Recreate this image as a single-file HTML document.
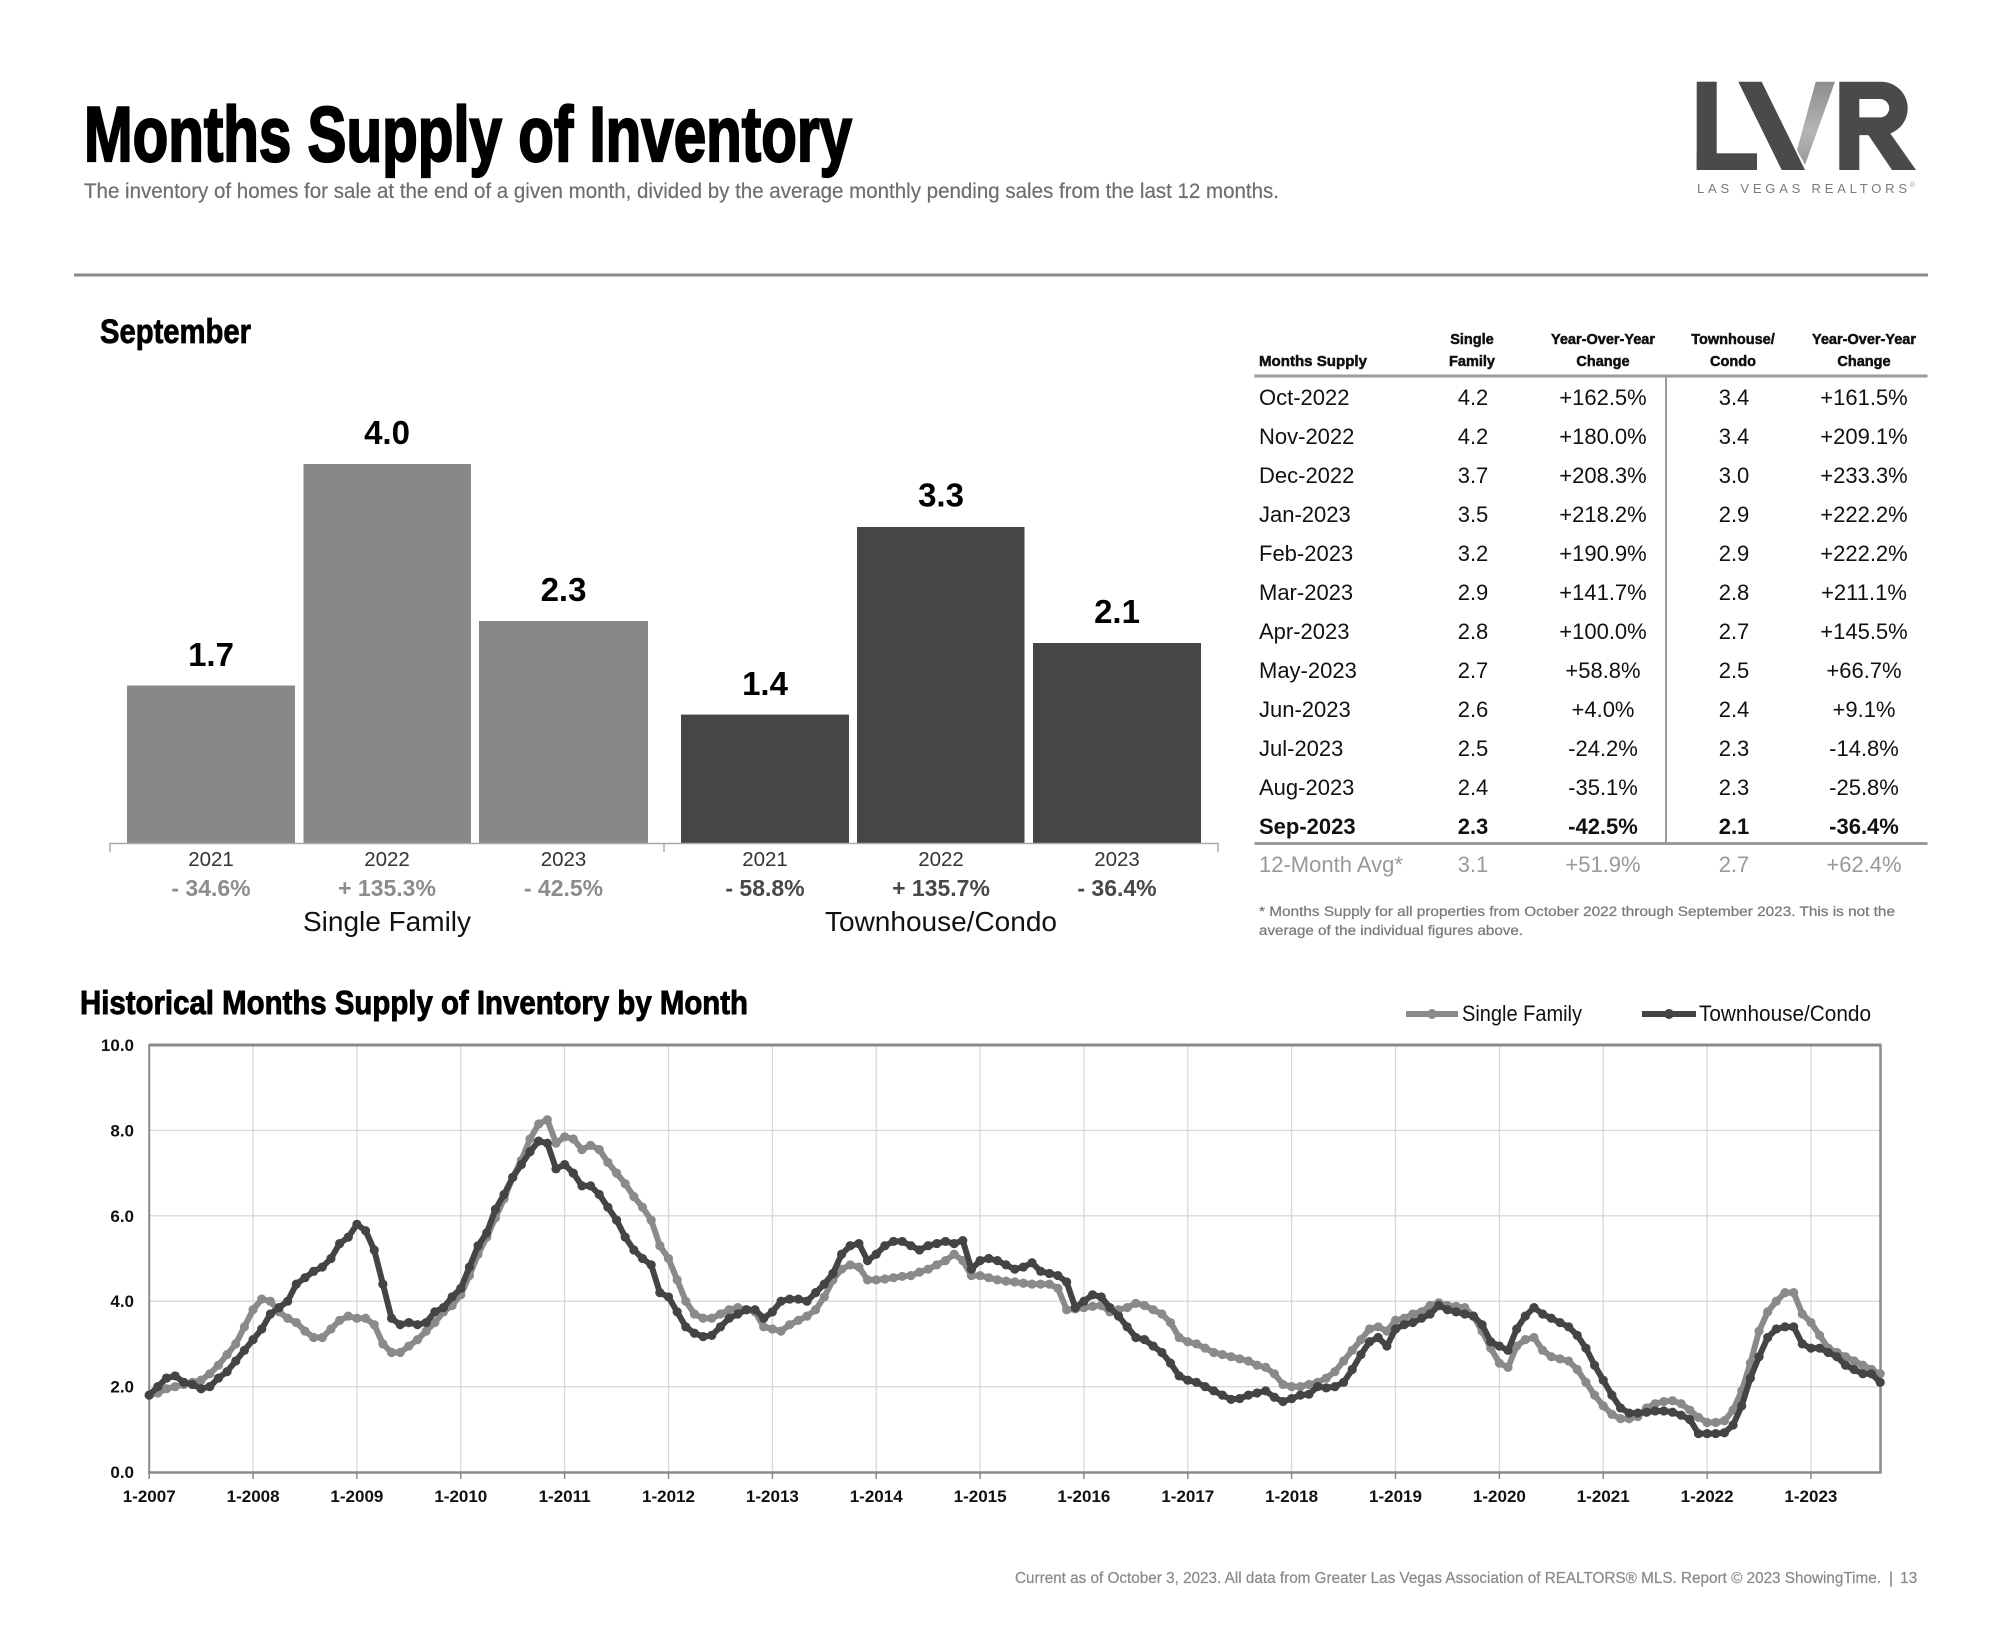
<!DOCTYPE html>
<html><head><meta charset="utf-8"><style>
html,body{margin:0;padding:0;background:#fff;}
svg{display:block;font-family:"Liberation Sans",Arial,sans-serif;}
</style></head><body>
<svg width="2000" height="1640" viewBox="0 0 2000 1640" xmlns="http://www.w3.org/2000/svg">
<rect width="2000" height="1640" fill="#fff"/>
<!-- Header -->
<text x="84" y="161" font-size="78" font-weight="bold" fill="#000" stroke="#000" stroke-width="2.2" textLength="768" lengthAdjust="spacingAndGlyphs">Months Supply of Inventory</text>
<text x="84" y="198" font-size="21" fill="#6e6e6e" stroke="#6e6e6e" stroke-width="0.2" textLength="1195" lengthAdjust="spacingAndGlyphs">The inventory of homes for sale at the end of a given month, divided by the average monthly pending sales from the last 12 months.</text>
<!-- Logo -->
<g fill="#4a4a4a">
<rect x="1696.7" y="81.7" width="20" height="88.3"/>
<rect x="1696.7" y="153.3" width="60.3" height="16.7"/>
<polygon points="1738.3,81.7 1761.7,81.7 1805,170 1781.7,170"/>
<path fill-rule="evenodd" d="M1839.3,81.7 H1881 A26.7,26.7 0 0 1 1881,135.1 H1859.3 V170 H1839.3 Z M1859.3,99 H1880 A9.2,9.2 0 0 1 1880,117.4 H1859.3 Z"/>
<polygon points="1867,133 1890,133 1916,170 1892,170"/>
</g>
<defs><linearGradient id="vg" x1="0" y1="0" x2="0" y2="1"><stop offset="0" stop-color="#8d8d8d"/><stop offset="0.6" stop-color="#b5b5b5"/><stop offset="1" stop-color="#9a9a9a"/></linearGradient></defs>
<polygon points="1815.7,81.7 1835,81.7 1805,165 1797,150" fill="url(#vg)"/>
<text x="1697" y="193" font-size="13" fill="#7a7a7a" textLength="210" lengthAdjust="spacing">LAS VEGAS REALTORS</text>
<text x="1910" y="187" font-size="7" fill="#999">®</text>
<rect x="74" y="273.5" width="1854" height="3" fill="#8a8a8a"/>

<!-- September bar chart -->
<text x="100" y="343" font-size="34" font-weight="bold" fill="#000" stroke="#000" stroke-width="0.8" textLength="151" lengthAdjust="spacingAndGlyphs">September</text>
<g fill="#888">
<rect x="127" y="685.5" width="168" height="157.5"/>
<rect x="303.5" y="464" width="167.5" height="379"/>
<rect x="479" y="621" width="169" height="222"/>
</g>
<g fill="#464646">
<rect x="681" y="714.6" width="168" height="128.4"/>
<rect x="857" y="527" width="167.5" height="316"/>
<rect x="1033" y="643" width="168" height="200"/>
</g>
<g stroke="#aaa" stroke-width="1.5" fill="none">
<line x1="110" y1="843.5" x2="1218" y2="843.5"/>
<line x1="110" y1="843" x2="110" y2="852"/>
<line x1="664" y1="843" x2="664" y2="852"/>
<line x1="1218" y1="843" x2="1218" y2="852"/>
</g>
<g font-size="33" font-weight="bold" fill="#000" text-anchor="middle">
<text x="211" y="666">1.7</text>
<text x="387" y="444">4.0</text>
<text x="563.5" y="601">2.3</text>
<text x="765" y="695">1.4</text>
<text x="941" y="506.5">3.3</text>
<text x="1117" y="623">2.1</text>
</g>
<g font-size="20.5" fill="#333" text-anchor="middle">
<text x="211" y="866">2021</text>
<text x="387" y="866">2022</text>
<text x="563.5" y="866">2023</text>
<text x="765" y="866">2021</text>
<text x="941" y="866">2022</text>
<text x="1117" y="866">2023</text>
</g>
<g font-size="23" font-weight="bold" text-anchor="middle">
<text x="211" y="896" fill="#8c8c8c">- 34.6%</text>
<text x="387" y="896" fill="#8c8c8c">+ 135.3%</text>
<text x="563.5" y="896" fill="#8c8c8c">- 42.5%</text>
<text x="765" y="896" fill="#484848">- 58.8%</text>
<text x="941" y="896" fill="#484848">+ 135.7%</text>
<text x="1117" y="896" fill="#484848">- 36.4%</text>
</g>
<g font-size="28" fill="#111" text-anchor="middle">
<text x="387" y="931">Single Family</text>
<text x="941" y="931">Townhouse/Condo</text>
</g>

<!-- Table -->
<g font-size="14.5" font-weight="bold" fill="#111" stroke="#111" stroke-width="0.5">
<text x="1259" y="366" textLength="108" lengthAdjust="spacingAndGlyphs">Months Supply</text>
<g text-anchor="middle">
<text x="1472" y="344">Single</text><text x="1472" y="366">Family</text>
<text x="1603" y="344">Year-Over-Year</text><text x="1603" y="366">Change</text>
<text x="1733" y="344">Townhouse/</text><text x="1733" y="366">Condo</text>
<text x="1864" y="344">Year-Over-Year</text><text x="1864" y="366">Change</text>
</g>
</g>
<rect x="1254.5" y="374.5" width="673" height="3" fill="#9a9a9a"/>
<rect x="1254.5" y="842" width="673" height="3" fill="#9a9a9a"/>
<rect x="1665" y="376" width="2" height="467" fill="#9a9a9a"/>
<g font-size="22" fill="#111">
<g>
<text x="1259" y="405">Oct-2022</text>
<text x="1259" y="444">Nov-2022</text>
<text x="1259" y="483">Dec-2022</text>
<text x="1259" y="522">Jan-2023</text>
<text x="1259" y="561">Feb-2023</text>
<text x="1259" y="600">Mar-2023</text>
<text x="1259" y="639">Apr-2023</text>
<text x="1259" y="678">May-2023</text>
<text x="1259" y="717">Jun-2023</text>
<text x="1259" y="756">Jul-2023</text>
<text x="1259" y="795">Aug-2023</text>
<text x="1259" y="834" font-weight="bold">Sep-2023</text>
</g>
<g text-anchor="middle">
<text x="1473" y="405">4.2</text><text x="1603" y="405">+162.5%</text><text x="1734" y="405">3.4</text><text x="1864" y="405">+161.5%</text>
<text x="1473" y="444">4.2</text><text x="1603" y="444">+180.0%</text><text x="1734" y="444">3.4</text><text x="1864" y="444">+209.1%</text>
<text x="1473" y="483">3.7</text><text x="1603" y="483">+208.3%</text><text x="1734" y="483">3.0</text><text x="1864" y="483">+233.3%</text>
<text x="1473" y="522">3.5</text><text x="1603" y="522">+218.2%</text><text x="1734" y="522">2.9</text><text x="1864" y="522">+222.2%</text>
<text x="1473" y="561">3.2</text><text x="1603" y="561">+190.9%</text><text x="1734" y="561">2.9</text><text x="1864" y="561">+222.2%</text>
<text x="1473" y="600">2.9</text><text x="1603" y="600">+141.7%</text><text x="1734" y="600">2.8</text><text x="1864" y="600">+211.1%</text>
<text x="1473" y="639">2.8</text><text x="1603" y="639">+100.0%</text><text x="1734" y="639">2.7</text><text x="1864" y="639">+145.5%</text>
<text x="1473" y="678">2.7</text><text x="1603" y="678">+58.8%</text><text x="1734" y="678">2.5</text><text x="1864" y="678">+66.7%</text>
<text x="1473" y="717">2.6</text><text x="1603" y="717">+4.0%</text><text x="1734" y="717">2.4</text><text x="1864" y="717">+9.1%</text>
<text x="1473" y="756">2.5</text><text x="1603" y="756">-24.2%</text><text x="1734" y="756">2.3</text><text x="1864" y="756">-14.8%</text>
<text x="1473" y="795">2.4</text><text x="1603" y="795">-35.1%</text><text x="1734" y="795">2.3</text><text x="1864" y="795">-25.8%</text>
<g font-weight="bold"><text x="1473" y="834">2.3</text><text x="1603" y="834">-42.5%</text><text x="1734" y="834">2.1</text><text x="1864" y="834">-36.4%</text></g>
</g>
<g fill="#999">
<text x="1259" y="872">12-Month Avg*</text>
<g text-anchor="middle"><text x="1473" y="872">3.1</text><text x="1603" y="872">+51.9%</text><text x="1734" y="872">2.7</text><text x="1864" y="872">+62.4%</text></g>
</g>
</g>
<g font-size="13.5" fill="#7a7a7a" stroke="#7a7a7a" stroke-width="0.25">
<text x="1259" y="916" textLength="636" lengthAdjust="spacingAndGlyphs">* Months Supply for all properties from October 2022 through September 2023. This is not the</text>
<text x="1259" y="935" textLength="264" lengthAdjust="spacingAndGlyphs">average of the individual figures above.</text>
</g>

<!-- Historical chart -->
<text x="80" y="1014" font-size="33" font-weight="bold" fill="#000" stroke="#000" stroke-width="0.9" textLength="668" lengthAdjust="spacingAndGlyphs">Historical Months Supply of Inventory by Month</text>
<g>
<line x1="1406" y1="1014" x2="1458" y2="1014" stroke="#8a8a8a" stroke-width="6"/>
<circle cx="1432" cy="1014" r="5" fill="#8a8a8a"/>
<text x="1462" y="1021" font-size="22" fill="#111" textLength="120" lengthAdjust="spacingAndGlyphs">Single Family</text>
<line x1="1642" y1="1014" x2="1696" y2="1014" stroke="#444" stroke-width="6"/>
<circle cx="1669" cy="1014" r="5" fill="#444"/>
<text x="1699" y="1021" font-size="22" fill="#111" textLength="172" lengthAdjust="spacingAndGlyphs">Townhouse/Condo</text>
</g>
<g stroke="#d8d8d8" stroke-width="1.3">
<line x1="149.2" y1="1386.6" x2="1880.2" y2="1386.6"/>
<line x1="149.2" y1="1301.2" x2="1880.2" y2="1301.2"/>
<line x1="149.2" y1="1215.8" x2="1880.2" y2="1215.8"/>
<line x1="149.2" y1="1130.4" x2="1880.2" y2="1130.4"/>
<line x1="253.1" y1="1045" x2="253.1" y2="1472"/>
<line x1="356.9" y1="1045" x2="356.9" y2="1472"/>
<line x1="460.8" y1="1045" x2="460.8" y2="1472"/>
<line x1="564.6" y1="1045" x2="564.6" y2="1472"/>
<line x1="668.5" y1="1045" x2="668.5" y2="1472"/>
<line x1="772.4" y1="1045" x2="772.4" y2="1472"/>
<line x1="876.2" y1="1045" x2="876.2" y2="1472"/>
<line x1="980.1" y1="1045" x2="980.1" y2="1472"/>
<line x1="1083.9" y1="1045" x2="1083.9" y2="1472"/>
<line x1="1187.8" y1="1045" x2="1187.8" y2="1472"/>
<line x1="1291.6" y1="1045" x2="1291.6" y2="1472"/>
<line x1="1395.5" y1="1045" x2="1395.5" y2="1472"/>
<line x1="1499.4" y1="1045" x2="1499.4" y2="1472"/>
<line x1="1603.2" y1="1045" x2="1603.2" y2="1472"/>
<line x1="1707.1" y1="1045" x2="1707.1" y2="1472"/>
<line x1="1810.9" y1="1045" x2="1810.9" y2="1472"/>
</g>
<g stroke="#8a8a8a" fill="none">
<line x1="149.2" y1="1045" x2="1881.5" y2="1045" stroke-width="3"/>
<line x1="1880.5" y1="1045" x2="1880.5" y2="1473" stroke-width="2.5"/>
<line x1="149.2" y1="1044" x2="149.2" y2="1473" stroke-width="2"/>
<line x1="148" y1="1472.5" x2="1881.5" y2="1472.5" stroke-width="2.5"/>
</g>
<g stroke="#8a8a8a" stroke-width="1.5">
<line x1="149.2" y1="1472" x2="149.2" y2="1479"/><line x1="253.1" y1="1472" x2="253.1" y2="1479"/><line x1="356.9" y1="1472" x2="356.9" y2="1479"/><line x1="460.8" y1="1472" x2="460.8" y2="1479"/><line x1="564.6" y1="1472" x2="564.6" y2="1479"/><line x1="668.5" y1="1472" x2="668.5" y2="1479"/><line x1="772.4" y1="1472" x2="772.4" y2="1479"/><line x1="876.2" y1="1472" x2="876.2" y2="1479"/><line x1="980.1" y1="1472" x2="980.1" y2="1479"/><line x1="1083.9" y1="1472" x2="1083.9" y2="1479"/><line x1="1187.8" y1="1472" x2="1187.8" y2="1479"/><line x1="1291.6" y1="1472" x2="1291.6" y2="1479"/><line x1="1395.5" y1="1472" x2="1395.5" y2="1479"/><line x1="1499.4" y1="1472" x2="1499.4" y2="1479"/><line x1="1603.2" y1="1472" x2="1603.2" y2="1479"/><line x1="1707.1" y1="1472" x2="1707.1" y2="1479"/><line x1="1810.9" y1="1472" x2="1810.9" y2="1479"/>
</g>
<g font-size="17" font-weight="bold" fill="#111" text-anchor="end">
<text x="134" y="1478">0.0</text>
<text x="134" y="1392.6">2.0</text>
<text x="134" y="1307.2">4.0</text>
<text x="134" y="1221.8">6.0</text>
<text x="134" y="1136.4">8.0</text>
<text x="134" y="1051">10.0</text>
</g>
<g font-size="17" font-weight="bold" fill="#111" text-anchor="middle">
<text x="149.2" y="1502">1-2007</text><text x="253.1" y="1502">1-2008</text><text x="356.9" y="1502">1-2009</text><text x="460.8" y="1502">1-2010</text><text x="564.6" y="1502">1-2011</text><text x="668.5" y="1502">1-2012</text><text x="772.4" y="1502">1-2013</text><text x="876.2" y="1502">1-2014</text><text x="980.1" y="1502">1-2015</text><text x="1083.9" y="1502">1-2016</text><text x="1187.8" y="1502">1-2017</text><text x="1291.6" y="1502">1-2018</text><text x="1395.5" y="1502">1-2019</text><text x="1499.4" y="1502">1-2020</text><text x="1603.2" y="1502">1-2021</text><text x="1707.1" y="1502">1-2022</text><text x="1810.9" y="1502">1-2023</text>
</g>
<polyline id="sf" fill="none" stroke="#8a8a8a" stroke-width="6" stroke-linejoin="round" stroke-linecap="round" vector-effect="non-scaling-stroke" transform="matrix(8.655 0 0 -42.7 149.2 1472)" points="0,1.8 1,1.85 2,1.95 3,2.0 4,2.05 5,2.1 6,2.15 7,2.3 8,2.5 9,2.75 10,3.0 11,3.4 12,3.8 13,4.05 14,4.0 15,3.75 16,3.6 17,3.5 18,3.3 19,3.15 20,3.15 21,3.35 22,3.55 23,3.65 24,3.6 25,3.6 26,3.45 27,3.0 28,2.8 29,2.8 30,2.95 31,3.1 32,3.3 33,3.5 34,3.75 35,3.9 36,4.15 37,4.6 38,5.1 39,5.5 40,5.95 41,6.4 42,6.9 43,7.3 44,7.8 45,8.15 46,8.25 47,7.7 48,7.85 49,7.8 50,7.55 51,7.65 52,7.55 53,7.25 54,7.0 55,6.75 56,6.45 57,6.2 58,5.9 59,5.3 60,5.0 61,4.5 62,4.0 63,3.7 64,3.6 65,3.6 66,3.7 67,3.8 68,3.85 69,3.8 70,3.75 71,3.4 72,3.35 73,3.3 74,3.45 75,3.55 76,3.65 77,3.8 78,4.1 79,4.5 80,4.75 81,4.85 82,4.8 83,4.5 84,4.5 85,4.52 86,4.55 87,4.58 88,4.6 89,4.68 90,4.75 91,4.85 92,4.95 93,5.1 94,4.95 95,4.6 96,4.6 97,4.55 98,4.5 99,4.47 100,4.45 101,4.42 102,4.4 103,4.4 104,4.4 105,4.3 106,3.8 107,3.82 108,3.85 109,3.88 110,3.9 111,3.75 112,3.8 113,3.85 114,3.95 115,3.9 116,3.8 117,3.7 118,3.5 119,3.15 120,3.05 121,3.0 122,2.9 123,2.8 124,2.75 125,2.7 126,2.65 127,2.6 128,2.5 129,2.45 130,2.3 131,2.05 132,2.0 133,2.0 134,2.05 135,2.1 136,2.2 137,2.35 138,2.6 139,2.85 140,3.1 141,3.35 142,3.4 143,3.3 144,3.55 145,3.6 146,3.7 147,3.75 148,3.9 149,3.96 150,3.9 151,3.88 152,3.85 153,3.65 154,3.3 155,2.9 156,2.55 157,2.45 158,2.95 159,3.1 160,3.15 161,2.85 162,2.7 163,2.65 164,2.6 165,2.4 166,2.1 167,1.8 168,1.55 169,1.35 170,1.25 171,1.25 172,1.3 173,1.5 174,1.6 175,1.65 176,1.67 177,1.6 178,1.45 179,1.28 180,1.16 181,1.16 182,1.2 183,1.45 184,1.9 185,2.55 186,3.3 187,3.75 188,4.0 189,4.2 190,4.2 191,3.7 192,3.5 193,3.2 194,2.9 195,2.8 196,2.7 197,2.6 198,2.5 199,2.4 200,2.3"/>
<g id="sfm" fill="#8a8a8a"></g>
<polyline id="tc" fill="none" stroke="#444" stroke-width="6" stroke-linejoin="round" stroke-linecap="round" vector-effect="non-scaling-stroke" transform="matrix(8.655 0 0 -42.7 149.2 1472)" points="0,1.8 1,2.0 2,2.2 3,2.25 4,2.1 5,2.05 6,1.95 7,2.0 8,2.2 9,2.35 10,2.6 11,2.85 12,3.1 13,3.35 14,3.7 15,3.85 16,4.0 17,4.4 18,4.55 19,4.7 20,4.8 21,5.0 22,5.35 23,5.5 24,5.8 25,5.65 26,5.2 27,4.4 28,3.6 29,3.45 30,3.5 31,3.45 32,3.5 33,3.75 34,3.85 35,4.1 36,4.3 37,4.8 38,5.3 39,5.6 40,6.15 41,6.5 42,6.9 43,7.2 44,7.5 45,7.75 46,7.7 47,7.1 48,7.2 49,7.0 50,6.7 51,6.7 52,6.5 53,6.2 54,5.9 55,5.5 56,5.2 57,5.0 58,4.85 59,4.2 60,4.1 61,3.75 62,3.4 63,3.25 64,3.17 65,3.2 66,3.4 67,3.6 68,3.7 69,3.8 70,3.8 71,3.6 72,3.75 73,4.0 74,4.05 75,4.05 76,4.0 77,4.2 78,4.4 79,4.65 80,5.1 81,5.3 82,5.35 83,4.95 84,5.1 85,5.3 86,5.4 87,5.4 88,5.3 89,5.2 90,5.3 91,5.35 92,5.4 93,5.35 94,5.42 95,4.75 96,4.95 97,5.0 98,4.95 99,4.85 100,4.75 101,4.8 102,4.9 103,4.7 104,4.65 105,4.6 106,4.45 107,3.85 108,4.0 109,4.15 110,4.1 111,3.85 112,3.65 113,3.4 114,3.15 115,3.1 116,2.95 117,2.8 118,2.55 119,2.25 120,2.15 121,2.1 122,2.0 123,1.9 124,1.8 125,1.7 126,1.72 127,1.8 128,1.85 129,1.9 130,1.75 131,1.65 132,1.72 133,1.8 134,1.82 135,2.0 136,1.97 137,2.0 138,2.1 139,2.4 140,2.75 141,3.05 142,3.15 143,2.95 144,3.35 145,3.45 146,3.5 147,3.6 148,3.7 149,3.9 150,3.8 151,3.75 152,3.7 153,3.65 154,3.45 155,3.05 156,2.95 157,2.85 158,3.35 159,3.65 160,3.85 161,3.7 162,3.6 163,3.5 164,3.4 165,3.2 166,2.9 167,2.5 168,2.15 169,1.8 170,1.5 171,1.38 172,1.38 173,1.4 174,1.43 175,1.43 176,1.4 177,1.33 178,1.23 179,0.9 180,0.9 181,0.9 182,0.92 183,1.1 184,1.55 185,2.2 186,2.7 187,3.15 188,3.35 189,3.4 190,3.4 191,3.0 192,2.9 193,2.9 194,2.8 195,2.7 196,2.5 197,2.4 198,2.3 199,2.3 200,2.1"/>
<g id="tcm" fill="#444"></g>

<!-- Footer -->
<g font-size="15.5" fill="#888" stroke="#888" stroke-width="0.2">
<text x="1015" y="1583" textLength="866" lengthAdjust="spacingAndGlyphs">Current as of October 3, 2023. All data from Greater Las Vegas Association of REALTORS® MLS. Report © 2023 ShowingTime.</text>
<text x="1889" y="1583">|</text>
<text x="1900" y="1583">13</text>
</g>
</svg>
<script>
(function(){
  var NS="http://www.w3.org/2000/svg";
  ["sf","tc"].forEach(function(id){
    var p=document.getElementById(id), g=document.getElementById(id+"m");
    var pts=p.getAttribute("points").trim().split(/\s+/);
    pts.forEach(function(t){
      var a=t.split(","), m=parseFloat(a[0]), v=parseFloat(a[1]);
      var c=document.createElementNS(NS,"circle");
      c.setAttribute("cx",(149.2+8.655*m).toFixed(2));
      c.setAttribute("cy",(1472-42.7*v).toFixed(2));
      c.setAttribute("r","4.6");
      g.appendChild(c);
    });
  });
})();
</script>
</body></html>
